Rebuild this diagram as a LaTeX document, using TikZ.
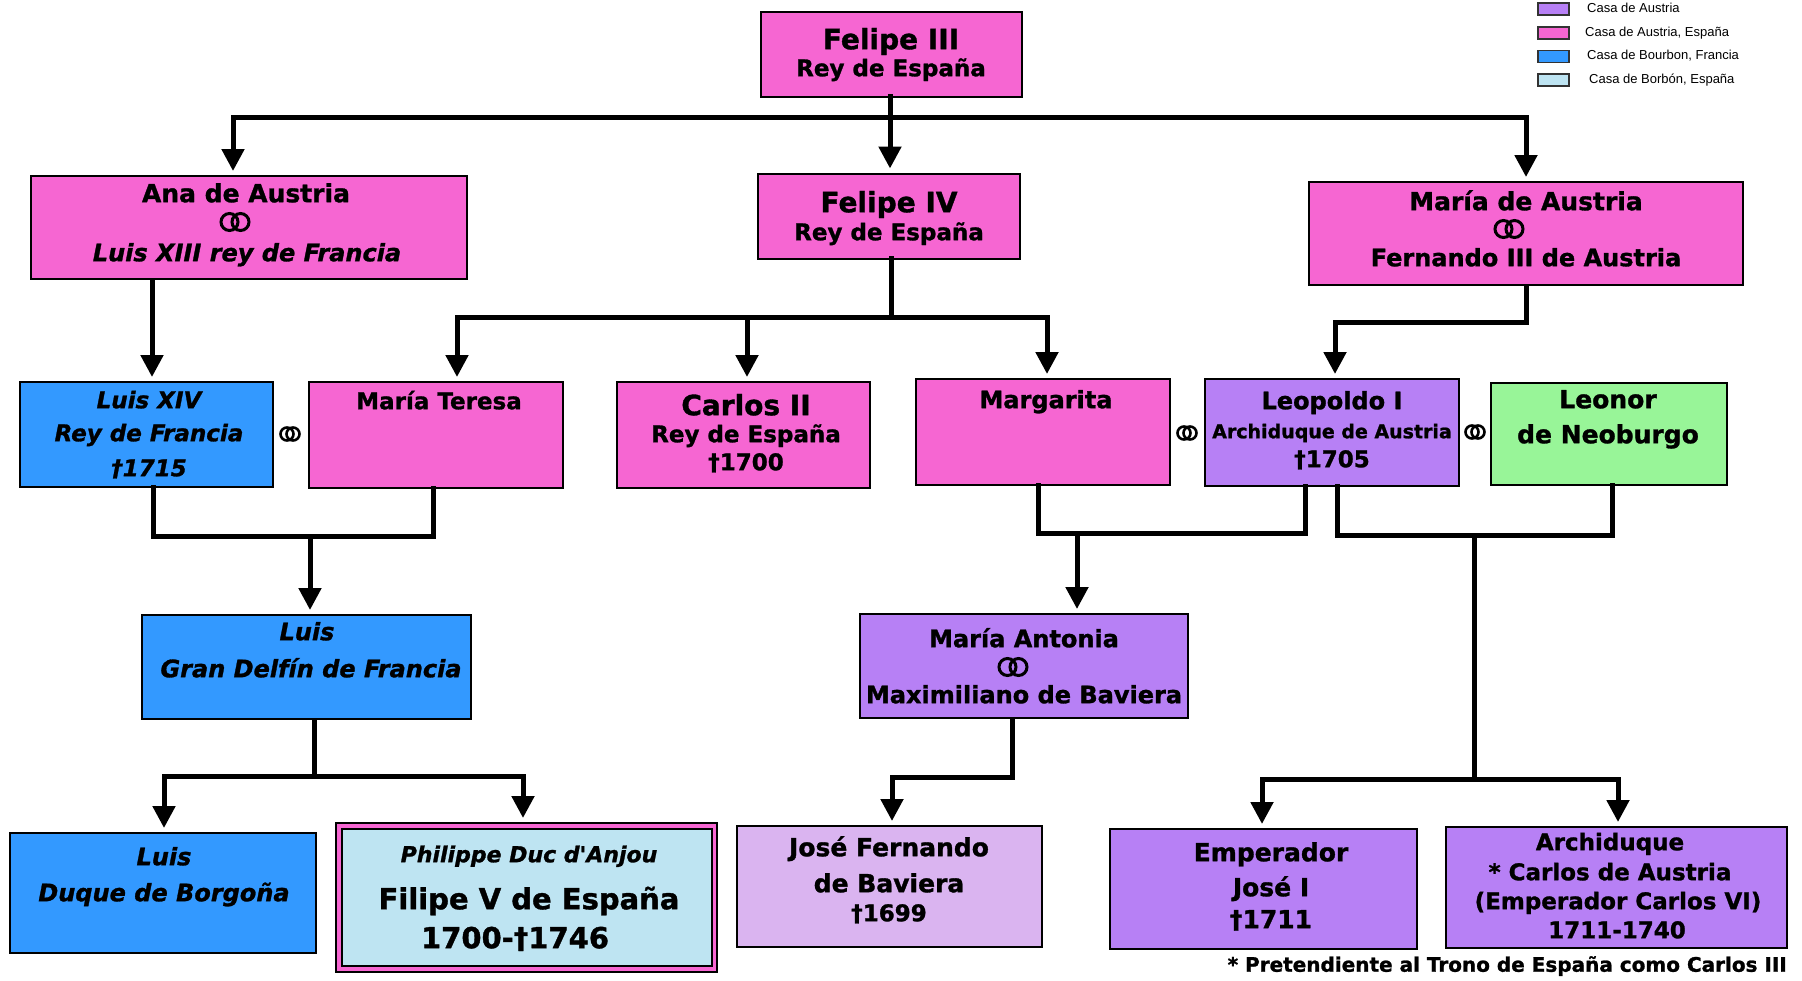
\documentclass[tikz,border=0pt]{standalone}
\usepackage{fontspec}
\setmainfont{DejaVu Sans}[BoldFeatures={FakeBold=1.2},BoldItalicFeatures={FakeBold=1.2}]
\newfontfamily\legfont{Liberation Sans}
\usetikzlibrary{arrows.meta}
\definecolor{pinkc}{RGB}{246,102,210}
\definecolor{bluec}{RGB}{51,153,255}
\definecolor{purplec}{RGB}{183,128,245}
\definecolor{lavc}{RGB}{218,180,240}
\definecolor{lbluec}{RGB}{190,228,242}
\definecolor{greenc}{RGB}{152,245,152}
\newcommand\fsz[1]{\fontsize{#1}{#1}\selectfont}
\tikzset{
  box/.style={draw=black, line width=2pt, inner sep=0pt, outer sep=0pt},
  txt/.style={anchor=mid, inner sep=0pt, yshift=-6.5pt, font=\bfseries},
  itxt/.style={anchor=mid, inner sep=0pt, yshift=-6.5pt, font=\bfseries\itshape},
  link/.style={line width=5pt, line cap=rect},
  arr/.style={line width=5pt, -{Triangle[width=22pt,length=22pt]}, shorten >=5pt},
  swatch/.style={draw=black!80, line width=1.5pt, minimum width=31pt, minimum height=12pt, inner sep=0pt},
  legtxt/.style={anchor=mid west, inner sep=0pt, yshift=-2pt, font=\legfont\fsz{13}},
  ringsbig/.pic={\draw[line width=3pt] (-5.5pt,0pt) circle (8.5pt) (5.5pt,0pt) circle (8.5pt);},
  ringssmall/.pic={\draw[line width=2.6pt] (-3pt,0pt) circle (6.5pt) (3pt,0pt) circle (6.5pt);}
}
\begin{document}
\begin{tikzpicture}[x=1pt,y=-1pt]
\useasboundingbox (0,0) rectangle (1802,980);
% ---------- boxes ----------
\node[box, fill=pinkc, minimum width=261pt, minimum height=85pt] (f3) at (891.5,54) {};
\node[box, fill=pinkc, minimum width=436pt, minimum height=103pt] (ana) at (249,227.5) {};
\node[box, fill=pinkc, minimum width=262pt, minimum height=85pt] (f4) at (888.5,216) {};
\node[box, fill=pinkc, minimum width=434pt, minimum height=103pt] (mda) at (1526,233.5) {};
\node[box, fill=bluec, minimum width=253pt, minimum height=105pt] (l14) at (146.5,434.5) {};
\node[box, fill=pinkc, minimum width=254pt, minimum height=106pt] (mt) at (436,435) {};
\node[box, fill=pinkc, minimum width=253pt, minimum height=106pt] (c2) at (743.5,435) {};
\node[box, fill=pinkc, minimum width=254pt, minimum height=106pt] (mg) at (1043,432) {};
\node[box, fill=purplec, minimum width=254pt, minimum height=107pt] (leo) at (1332,432.5) {};
\node[box, fill=greenc, minimum width=236pt, minimum height=102pt] (leon) at (1609,434) {};
\node[box, fill=bluec, minimum width=329pt, minimum height=104pt] (lgd) at (306.5,667) {};
\node[box, fill=purplec, minimum width=328pt, minimum height=104pt] (man) at (1023.5,666) {};
\node[box, fill=bluec, minimum width=306pt, minimum height=120pt] (ldb) at (163,893) {};
\node[box, fill=pinkc, minimum width=381pt, minimum height=149pt] (phi) at (526.5,897.5) {};
\node[box, fill=lbluec, minimum width=370pt, minimum height=137pt] (phiin) at (526.5,897.5) {};
\node[box, fill=lavc, minimum width=305pt, minimum height=121pt] (jf) at (889.5,886.5) {};
\node[box, fill=purplec, minimum width=307pt, minimum height=120pt] (jose) at (1263.5,889) {};
\node[box, fill=purplec, minimum width=341pt, minimum height=121pt] (arch) at (1616.5,887.5) {};
% ---------- texts ----------
\node[txt, font=\bfseries\fsz{28}] (t1) at (891,40) {Felipe III};
\node[txt, font=\bfseries\fsz{23}] (t2) at (891,67) {Rey de España};
\node[txt, font=\bfseries\fsz{25}] (t3) at (246,193) {Ana de Austria};
\pic (r1) at (235,222) {ringsbig};
\node[itxt, font=\bfseries\itshape\fsz{24}] (t4) at (247,252) {Luis XIII rey de Francia};
\node[txt, font=\bfseries\fsz{28}] (t5) at (889,203) {Felipe IV};
\node[txt, font=\bfseries\fsz{23}] (t6) at (889,231) {Rey de España};
\node[txt, font=\bfseries\fsz{25}] (t7) at (1526,201) {María de Austria};
\pic (r2) at (1509,229) {ringsbig};
\node[txt, font=\bfseries\fsz{24}] (t8) at (1526,257) {Fernando III de Austria};
\node[itxt, font=\bfseries\itshape\fsz{23}] (t9) at (149,399) {Luis XIV};
\node[itxt, font=\bfseries\itshape\fsz{23}] (t10) at (149,432) {Rey de Francia};
\node[itxt, font=\bfseries\itshape\fsz{23}] (t11) at (149,467) {†1715};
\pic (r3) at (290,434) {ringssmall};
\node[txt, font=\bfseries\fsz{23}] (t12) at (439,400) {María Teresa};
\node[txt, font=\bfseries\fsz{28}] (t13) at (746,406) {Carlos II};
\node[txt, font=\bfseries\fsz{23}] (t14) at (746,433) {Rey de España};
\node[txt, font=\bfseries\fsz{23}] (t15) at (746,461) {†1700};
\node[txt, font=\bfseries\fsz{24}] (t16) at (1046,399) {Margarita};
\pic (r4) at (1187,433) {ringssmall};
\node[txt, font=\bfseries\fsz{24}] (t17) at (1332,400) {Leopoldo I};
\node[txt, font=\bfseries\fsz{19}] (t18) at (1332,429) {Archiduque de Austria};
\node[txt, font=\bfseries\fsz{23}] (t19) at (1332,458) {†1705};
\pic (r5) at (1475,432) {ringssmall};
\node[txt, font=\bfseries\fsz{25}] (t20) at (1608,399) {Leonor};
\node[txt, font=\bfseries\fsz{25}] (t21) at (1608,434) {de Neoburgo};
\node[itxt, font=\bfseries\itshape\fsz{24}] (t22) at (307,631) {Luis};
\node[itxt, font=\bfseries\itshape\fsz{24}] (t23) at (311,668) {Gran Delfín de Francia};
\node[txt, font=\bfseries\fsz{24}] (t24) at (1024,638) {María Antonia};
\pic (r6) at (1013,667) {ringsbig};
\node[txt, font=\bfseries\fsz{24}] (t25) at (1024,694) {Maximiliano de Baviera};
\node[itxt, font=\bfseries\itshape\fsz{24}] (t26) at (164,856) {Luis};
\node[itxt, font=\bfseries\itshape\fsz{24}] (t27) at (164,892) {Duque de Borgoña};
\node[itxt, font=\bfseries\itshape\fsz{22}] (t28) at (529,853) {Philippe Duc d\textquotesingle Anjou};
\node[txt, font=\bfseries\fsz{29}] (t29) at (529,900) {Filipe V de España};
\node[txt, font=\bfseries\fsz{29}] (t30) at (515,939) {1700-†1746};
\node[txt, font=\bfseries\fsz{25}] (t31) at (889,847) {José Fernando};
\node[txt, font=\bfseries\fsz{25}] (t32) at (889,883) {de Baviera};
\node[txt, font=\bfseries\fsz{23}] (t33) at (889,912) {†1699};
\node[txt, font=\bfseries\fsz{25}] (t34) at (1271,852) {Emperador};
\node[txt, font=\bfseries\fsz{25}] (t35) at (1271,887) {José I};
\node[txt, font=\bfseries\fsz{25}] (t36) at (1271,919) {†1711};
\node[txt, font=\bfseries\fsz{23}] (t37) at (1610,841) {Archiduque};
\node[txt, font=\bfseries\fsz{23}] (t38) at (1610,871) {* Carlos de Austria};
\node[txt, font=\bfseries\fsz{23}] (t39) at (1618,900) {(Emperador Carlos VI)};
\node[txt, font=\bfseries\fsz{23}] (t40) at (1617,929) {1711-1740};
\node[anchor=mid east, inner sep=0pt, font=\bfseries\fsz{20}] (foot) at (1787,969) {* Pretendiente al Trono de España como Carlos III};
% ---------- legend ----------
\node[swatch, fill=purplec] (s1) at (1553.5,9) {};
\node[swatch, fill=pinkc] (s2) at (1553.5,33) {};
\node[swatch, fill=bluec] (s3) at (1553.5,56.5) {};
\node[swatch, fill=lbluec] (s4) at (1553.5,80) {};
\node[legtxt] (l1) at (1587,8) {Casa de Austria};
\node[legtxt] (l2) at (1585,32) {Casa de Austria, España};
\node[legtxt] (l3) at (1587,55) {Casa de Bourbon, Francia};
\node[legtxt] (l4) at (1589,79) {Casa de Borbón, España};
% ---------- connectors ----------
\coordinate (j0) at (890,117);
\coordinate (j0l) at (233,117);
\coordinate (j0r) at (1526,117);
\draw[link] (f3.south -| j0) -- (j0);
\draw[link] (j0l) -- (j0r);
\draw[arr] (j0l) -- (j0l |- ana.north);
\draw[arr] (j0) -- (j0 |- f4.north);
\draw[arr] (j0r) -- (j0r |- mda.north);
\coordinate (j1) at (891,317);
\coordinate (j1l) at (457,317);
\coordinate (j1c) at (747,317);
\coordinate (j1r) at (1047,317);
\draw[link] (f4.south -| j1) -- (j1);
\draw[link] (j1l) -- (j1r);
\draw[arr] (j1l) -- (j1l |- mt.north);
\draw[arr] (j1c) -- (j1c |- c2.north);
\draw[arr] (j1r) -- (j1r |- mg.north);
\coordinate (ja) at (152,300);
\draw[arr] (ana.south -| ja) -- (l14.north -| ja);
\coordinate (j2) at (1335,322);
\draw[arr] (mda.south) |- (j2) -- (j2 |- leo.north);
\coordinate (j3l) at (153,536);
\coordinate (j3r) at (433,536);
\coordinate (j3m) at (310,536);
\draw[link] (l14.south -| j3l) -- (j3l) -- (j3r) -- (mt.south -| j3r);
\draw[arr] (j3m) -- (j3m |- lgd.north);
\coordinate (j4m) at (314,776);
\coordinate (j4l) at (164,776);
\coordinate (j4r) at (523,776);
\draw[arr] (lgd.south -| j4m) |- (j4l) -- (j4l |- ldb.north);
\draw[arr] (j4m) -- (j4r) -- (j4r |- phi.north);
\coordinate (j5l) at (1038,533);
\coordinate (j5r) at (1305,533);
\coordinate (j5m) at (1077,533);
\draw[link] (mg.south -| j5l) -- (j5l) -- (j5r) -- (leo.south -| j5r);
\draw[arr] (j5m) -- (j5m |- man.north);
\coordinate (j6) at (1012,777);
\coordinate (j6l) at (892,777);
\draw[arr] (man.south -| j6) -- (j6) -- (j6l) -- (j6l |- jf.north);
\coordinate (j7l) at (1337,535);
\coordinate (j7r) at (1612,535);
\coordinate (j7m) at (1474,535);
\draw[link] (leo.south -| j7l) -- (j7l) -- (j7r) -- (leon.south -| j7r);
\coordinate (j8) at (1474,779);
\coordinate (j8l) at (1262,779);
\coordinate (j8r) at (1618,779);
\draw[link] (j7m) -- (j8);
\draw[arr] (j8) -- (j8l) -- (j8l |- jose.north);
\draw[arr] (j8) -- (j8r) -- (j8r |- arch.north);
\end{tikzpicture}
\end{document}
